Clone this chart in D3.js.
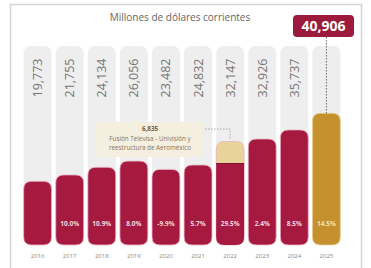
<!DOCTYPE html>
<html>
<head>
<meta charset="utf-8">
<script src="https://cdn.jsdelivr.net/npm/d3@7"></script>
<style>
  body { margin: 0; background: #fff; }
  svg { display: block; font-family: "Open Sans", sans-serif; }
</style>
</head>
<body>
<svg id="chart" width="371" height="268"></svg>
<script>
// data
const years = ["2016", "2017", "2018", "2019", "2020", "2021", "2022", "2023", "2024", "2025"];
const values = [19773, 21755, 24134, 26056, 23482, 24832, 32147, 32926, 35737, 40906];
const growth = ["", "10.0%", "10.9%", "8.0%", "-9.9%", "5.7%", "29.5%", "2.4%", "8.5%", "14.5%"];
const extraYear = "2022";
const extraValue = 6835;
const extraLabel = ["6,835", "Fusión Televisa - Univisión y", "reestructura de Aeroméxico"];
const title = "Millones de dólares corrientes";

const svg = d3.select("#chart");

// rounded rect path, separate radius top / bottom
function pill(x, y, w, h, rt, rb) {
  return `M${x},${y + rt}` +
    `Q${x},${y} ${x + rt},${y}` +
    `H${x + w - rt}` +
    `Q${x + w},${y} ${x + w},${y + rt}` +
    `V${y + h - rb}` +
    `Q${x + w},${y + h} ${x + w - rb},${y + h}` +
    `H${x + rb}` +
    `Q${x},${y + h} ${x},${y + h - rb}Z`;
}

// frame
svg.append("rect")
  .attr("x", 10.5).attr("y", 4.5)
  .attr("width", 351).attr("height", 270)
  .attr("fill", "none")
  .attr("stroke", "#d4d4d4")
  .attr("stroke-width", 1.5);

const x = d3.scaleBand()
  .domain(years)
  .range([23, 341])
  .paddingInner(0.13)
  .paddingOuter(0.02);

const y = d3.scaleLinear()
  .domain([0, 41000])
  .range([245, 113]);

const bw = x.bandwidth();
const r = 8;

// grey background columns
svg.selectAll(".bg")
  .data(years)
  .enter()
  .append("path")
  .attr("class", "bg")
  .attr("d", d => pill(x(d), 46, bw, y(0) - 46, r, r))
  .attr("fill", "#eeeeee");

// bars
svg.selectAll(".bar")
  .data(values)
  .enter()
  .append("path")
  .attr("class", "bar")
  .attr("d", (d, i) => pill(x(years[i]), y(d), bw, y(0) - y(d), r, r))
  .attr("fill", (d, i) => i === years.length - 1 ? "#c4912e" : (years[i] === extraYear ? "#e8d49b" : "#a71a40"))
  .attr("stroke", (d, i) => i === years.length - 1 ? "#e9cf95" : "#e7b5c2")
  .attr("stroke-width", 0.8);

// 2022 lower (regular) part
const ei = years.indexOf(extraYear);
const baseVal = values[ei] - extraValue;
svg.append("path")
  .attr("d", pill(x(extraYear), y(baseVal), bw, y(0) - y(baseVal), 0, r))
  .attr("fill", "#a71a40");
svg.append("line")
  .attr("x1", x(extraYear)).attr("x2", x(extraYear) + bw)
  .attr("y1", y(baseVal)).attr("y2", y(baseVal))
  .attr("stroke", "#7d1230")
  .attr("stroke-width", 1);

// value labels (rotated)
svg.selectAll(".val")
  .data(values.slice(0, -1))
  .enter()
  .append("text")
  .attr("class", "val")
  .attr("transform", (d, i) => `translate(${x(years[i]) + bw / 2 + 4.5},78) rotate(-90)`)
  .attr("text-anchor", "middle")
  .attr("font-size", 12.5)
  .attr("fill", "#777")
  .text(d => d3.format(",")(d));

// growth labels
svg.selectAll(".pct")
  .data(growth)
  .enter()
  .append("text")
  .attr("class", "pct")
  .attr("x", (d, i) => x(years[i]) + bw / 2)
  .attr("y", 226)
  .attr("text-anchor", "middle")
  .attr("font-size", 6.5)
  .attr("font-weight", "bold")
  .attr("fill", (d, i) => i === years.length - 1 ? "#f6e3a6" : "#f3d9df")
  .text(d => d);

// year axis
svg.append("g")
  .attr("transform", `translate(0,${y(0)})`)
  .call(d3.axisBottom(x).tickSize(0).tickPadding(9))
  .call(g => g.select(".domain").remove())
  .selectAll("text")
  .attr("font-size", 6)
  .attr("font-family", "Open Sans, sans-serif")
  .attr("fill", "#888");

// title
svg.append("text")
  .attr("x", 180).attr("y", 21)
  .attr("text-anchor", "middle")
  .attr("font-size", 10)
  .attr("fill", "#666")
  .text(title);

// last value callout
const lx = x(years[years.length - 1]) + bw / 2;
svg.append("line")
  .attr("x1", lx).attr("x2", lx)
  .attr("y1", 37).attr("y2", y(values[values.length - 1]))
  .attr("stroke", "#666")
  .attr("stroke-width", 1)
  .attr("stroke-dasharray", "1.5,1.5");
svg.append("rect")
  .attr("x", 293).attr("y", 15)
  .attr("width", 61).attr("height", 22)
  .attr("rx", 4)
  .attr("fill", "#9c1b3d");
svg.append("text")
  .attr("x", 323.5).attr("y", 31)
  .attr("text-anchor", "middle")
  .attr("font-size", 14)
  .attr("font-weight", "bold")
  .attr("fill", "#fff")
  .text(d3.format(",")(values[values.length - 1]));

// 2022 annotation
svg.append("rect")
  .attr("x", 96).attr("y", 122)
  .attr("width", 107).attr("height", 35)
  .attr("rx", 3)
  .attr("fill", "#f4efdf");
const ax = x(extraYear) + bw / 2;
svg.append("path")
  .attr("d", `M205,129H${ax}V${y(values[ei]) - 2}`)
  .attr("fill", "none")
  .attr("stroke", "#999")
  .attr("stroke-width", 0.8)
  .attr("stroke-dasharray", "1.5,1.5");
svg.selectAll(".ann")
  .data(extraLabel)
  .enter()
  .append("text")
  .attr("class", "ann")
  .attr("x", 150)
  .attr("y", (d, i) => 131 + i * 9.5)
  .attr("text-anchor", "middle")
  .attr("font-size", 6.3)
  .attr("font-weight", (d, i) => i === 0 ? "bold" : "normal")
  .attr("fill", (d, i) => i === 0 ? "#7a5a3c" : "#8a7560")
  .text(d => d);
</script>
</body>
</html>
